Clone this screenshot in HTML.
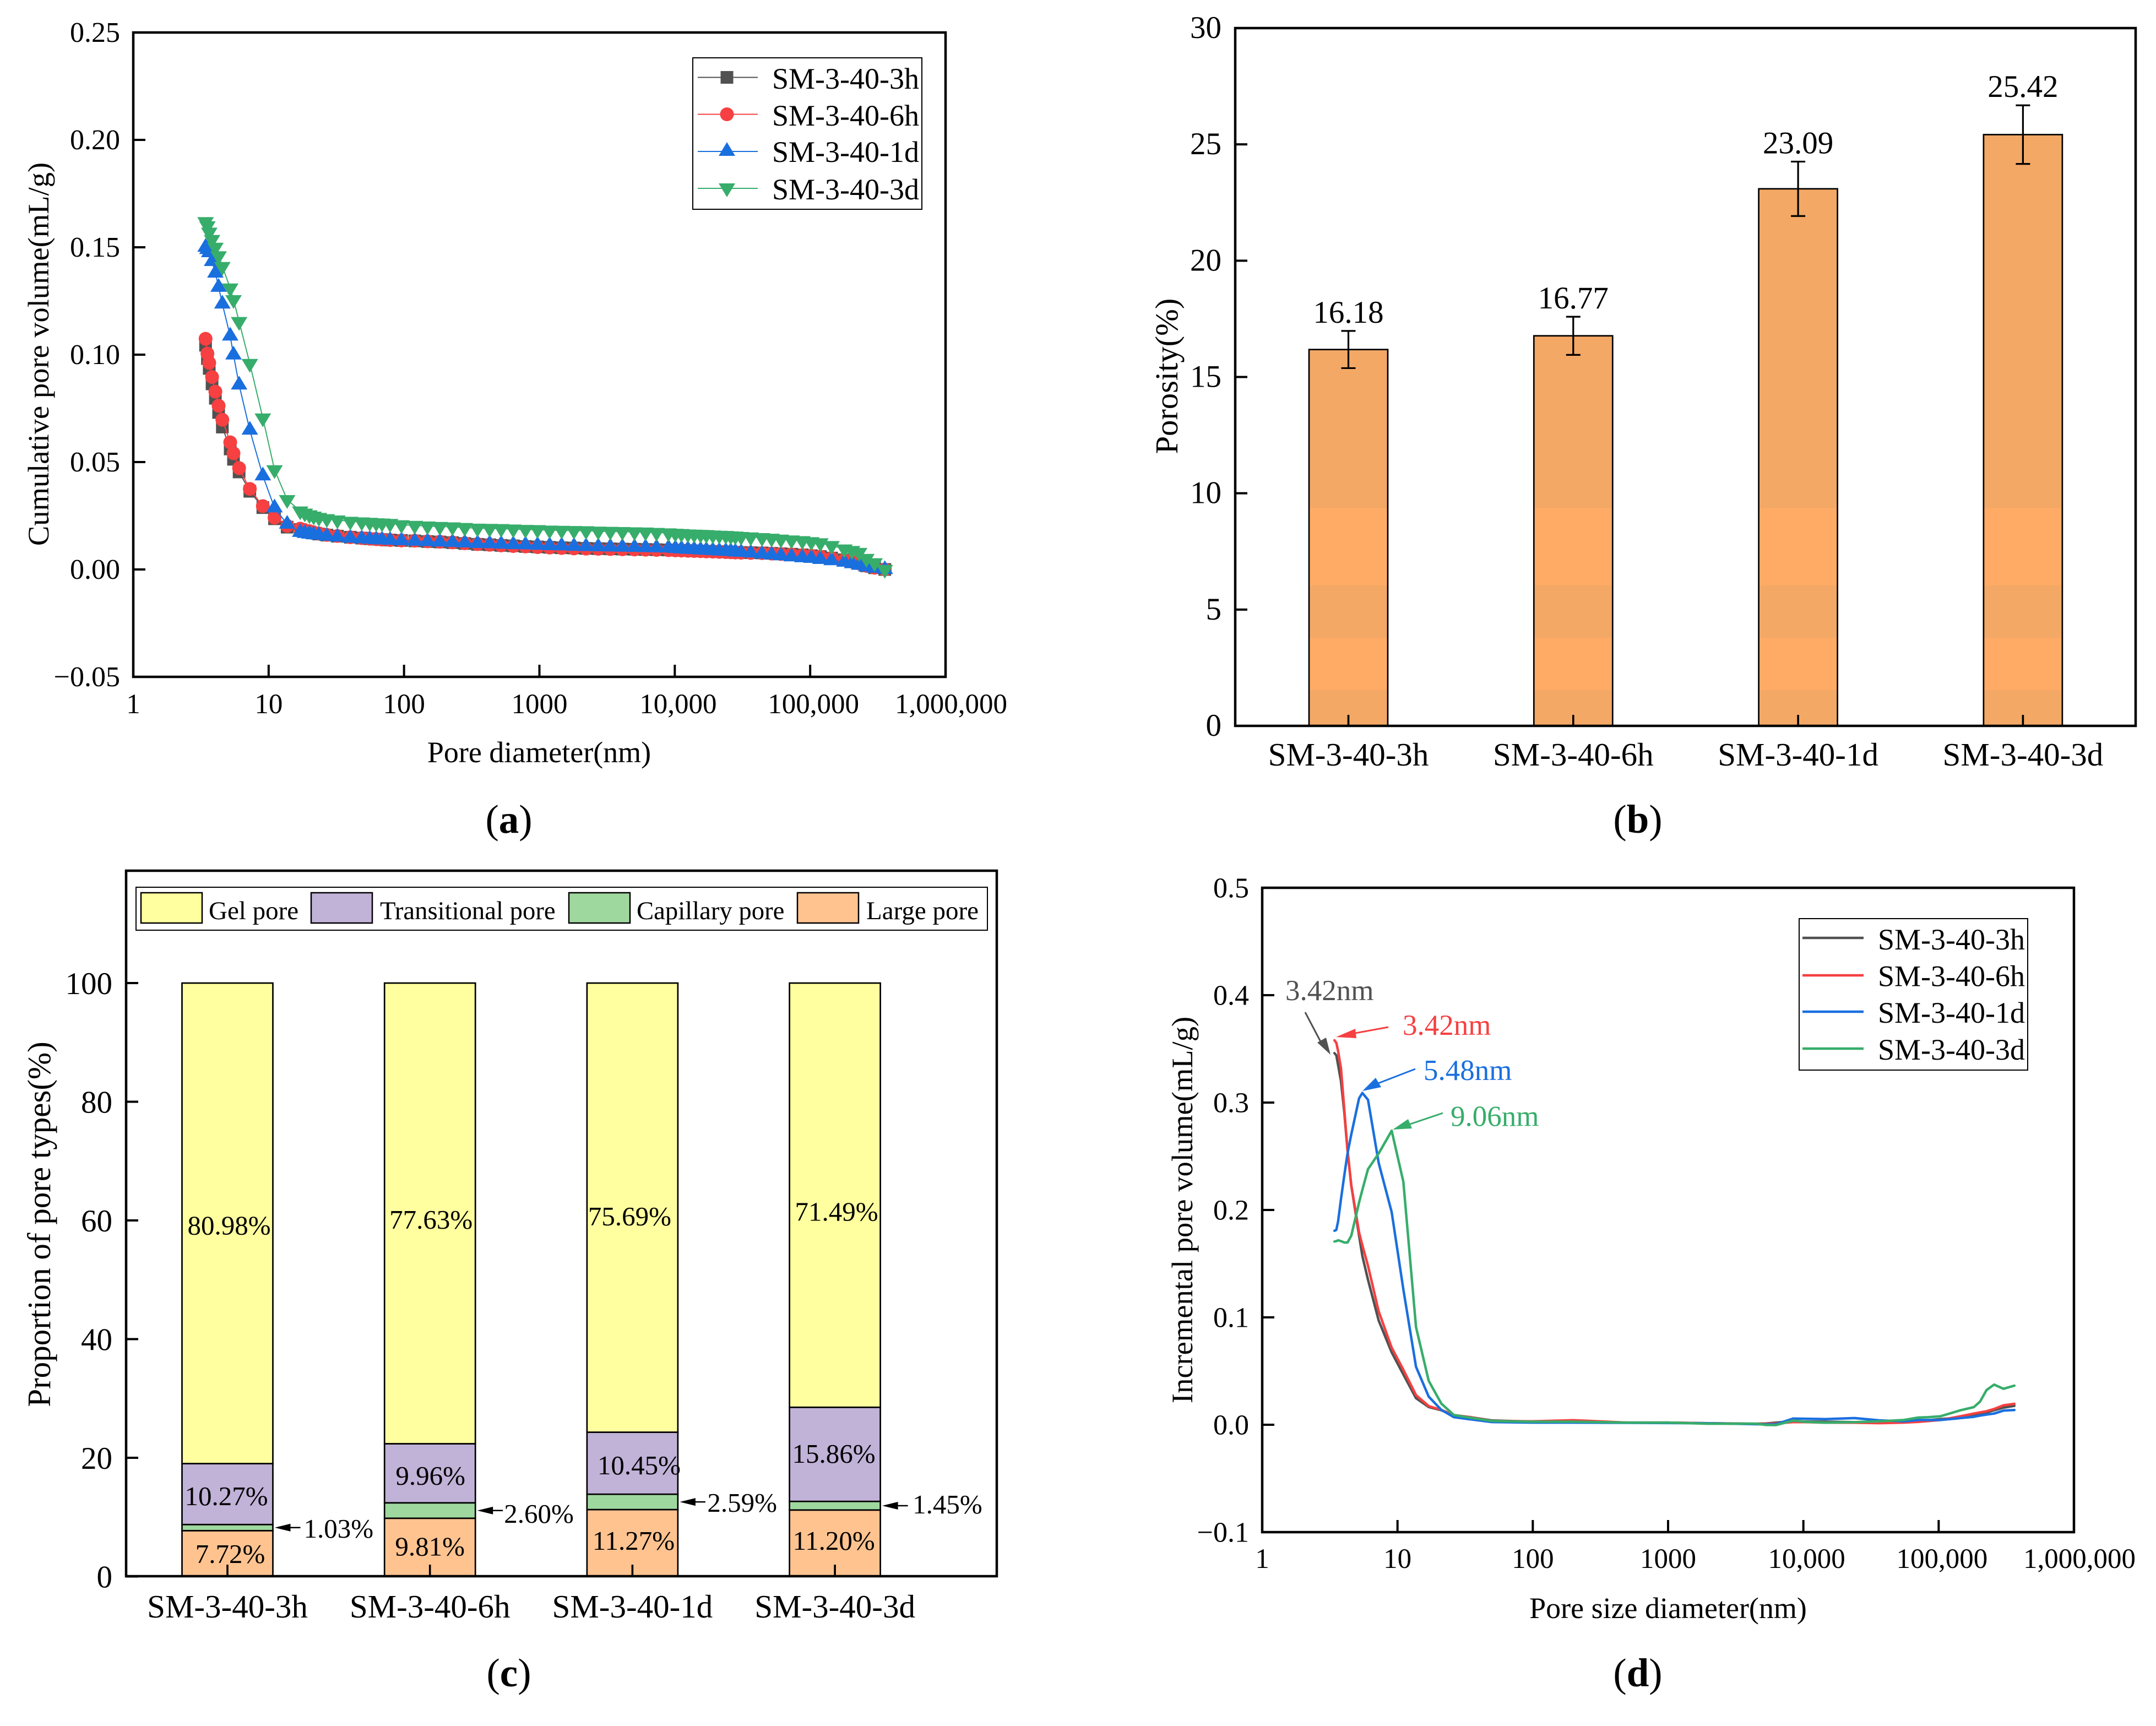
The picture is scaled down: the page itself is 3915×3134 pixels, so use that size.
<!DOCTYPE html>
<html lang="en">
<head>
<meta charset="utf-8">
<title>Pore structure charts</title>
<style>
html,body{margin:0;padding:0;background:#fff;}
svg{display:block;}
text{font-family:"Liberation Serif",serif;fill:#000;}
</style>
</head>
<body>
<svg id="fig" xmlns="http://www.w3.org/2000/svg" width="3915" height="3134" viewBox="0 0 3915 3134">
<defs>
<linearGradient id="barBands" gradientUnits="userSpaceOnUse" x1="0" y1="51" x2="0" y2="1318">
<stop offset="0" stop-color="#F3A866"/><stop offset="0.688" stop-color="#F3A866"/>
<stop offset="0.688" stop-color="#FFAB66"/><stop offset="0.7988" stop-color="#FFAB66"/>
<stop offset="0.7988" stop-color="#F3A866"/><stop offset="0.8737" stop-color="#F3A866"/>
<stop offset="0.8737" stop-color="#FFAB66"/><stop offset="0.9487" stop-color="#FFAB66"/>
<stop offset="0.9487" stop-color="#F3A866"/><stop offset="1" stop-color="#F3A866"/>
</linearGradient>
</defs>
<rect x="0" y="0" width="3915" height="3134" fill="#fff"/>

<!-- Panel a -->
<g id="panelA">
  <g id="a-marks"></g>
  <g id="a-ticks"></g>
  <rect x="242" y="59" width="1475" height="1170" fill="none" stroke="#000" stroke-width="4.5"/>
  <text x="979" y="1384" font-size="54" text-anchor="middle">Pore diameter(nm)</text>
  <text transform="translate(88,643) rotate(-90)" font-size="54.5" text-anchor="middle">Cumulative pore volume(mL/g)</text>
  <g>
    <rect x="1258" y="105" width="416" height="275" fill="#fff" stroke="#000" stroke-width="2"/>
    <g>
      <line x1="1267" x2="1376" y1="140.5" y2="140.5" stroke="#515151" stroke-width="2"/>
      <rect x="1308.5" y="129" width="23" height="23" fill="#515151"/>
      <text x="1402" y="161" font-size="54">SM-3-40-3h</text>
    </g>
    <g>
      <line x1="1267" x2="1376" y1="207.5" y2="207.5" stroke="#F64041" stroke-width="2"/>
      <circle cx="1320" cy="207.5" r="12.5" fill="#F64041"/>
      <text x="1402" y="228" font-size="54">SM-3-40-6h</text>
    </g>
    <g>
      <line x1="1267" x2="1376" y1="275" y2="275" stroke="#1A6FDF" stroke-width="2"/>
      <polygon points="1305,283 1335,283 1320,258" fill="#1A6FDF"/>
      <text x="1402" y="294" font-size="54">SM-3-40-1d</text>
    </g>
    <g>
      <line x1="1267" x2="1376" y1="342" y2="342" stroke="#37AD6B" stroke-width="2"/>
      <polygon points="1305,333 1335,333 1320,358" fill="#37AD6B"/>
      <text x="1402" y="362" font-size="54">SM-3-40-3d</text>
    </g>
  </g>
  <text x="924" y="1512" font-size="73" text-anchor="middle">(<tspan font-weight="bold">a</tspan>)</text>
</g>

<!-- Panel b -->
<g id="panelB">
  <g id="b-marks"></g>
  <g id="b-ticks"></g>
  <rect x="2243" y="51" width="1635" height="1267" fill="none" stroke="#000" stroke-width="4.5"/>
  <text transform="translate(2138,683) rotate(-90)" font-size="58.5" text-anchor="middle">Porosity(%)</text>
  <text x="2974" y="1512" font-size="73" text-anchor="middle">(<tspan font-weight="bold">b</tspan>)</text>
</g>

<!-- Panel c -->
<g id="panelC">
  <g id="c-marks"></g>
  <g id="c-ticks"></g>
  <rect x="229" y="1581" width="1581" height="1281" fill="none" stroke="#000" stroke-width="4.5"/>
  <text transform="translate(91,2223) rotate(-90)" font-size="59" text-anchor="middle">Proportion of pore types(%)</text>
  <g>
    <rect x="247" y="1611" width="1546" height="78" fill="#fff" stroke="#000" stroke-width="2"/>
    <g>
      <rect x="256" y="1621" width="111" height="55" fill="#FFFF9F" stroke="#000" stroke-width="2.5"/>
      <text x="379" y="1669" font-size="47">Gel pore</text>
    </g>
    <g>
      <rect x="565" y="1621" width="111" height="55" fill="#C1B2D8" stroke="#000" stroke-width="2.5"/>
      <text x="690" y="1669" font-size="46.7">Transitional pore</text>
    </g>
    <g>
      <rect x="1033" y="1621" width="111" height="55" fill="#9FD89F" stroke="#000" stroke-width="2.5"/>
      <text x="1156" y="1669" font-size="46.7">Capillary pore</text>
    </g>
    <g>
      <rect x="1448" y="1621" width="111" height="55" fill="#FFC390" stroke="#000" stroke-width="2.5"/>
      <text x="1573" y="1669" font-size="47">Large pore</text>
    </g>
  </g>
  <text x="924" y="3062" font-size="73" text-anchor="middle">(<tspan font-weight="bold">c</tspan>)</text>
</g>

<!-- Panel d -->
<g id="panelD">
  <g id="d-marks"></g>
  <g id="d-ticks"></g>
  <rect x="2292" y="1612" width="1474" height="1170" fill="none" stroke="#000" stroke-width="4.5"/>
  <text x="3029" y="2938" font-size="54" text-anchor="middle">Pore size diameter(nm)</text>
  <text transform="translate(2165,2197) rotate(-90)" font-size="54.5" text-anchor="middle">Incremental pore volume(mL/g)</text>
  <g>
    <rect x="3267" y="1668" width="415" height="275" fill="#fff" stroke="#000" stroke-width="2"/>
    <g>
      <line x1="3273" x2="3384" y1="1703" y2="1703" stroke="#515151" stroke-width="4.5"/>
      <text x="3410" y="1724" font-size="54">SM-3-40-3h</text>
    </g>
    <g>
      <line x1="3273" x2="3384" y1="1771" y2="1771" stroke="#F64041" stroke-width="4.5"/>
      <text x="3410" y="1790.5" font-size="54">SM-3-40-6h</text>
    </g>
    <g>
      <line x1="3273" x2="3384" y1="1837" y2="1837" stroke="#1A6FDF" stroke-width="4.5"/>
      <text x="3410" y="1857" font-size="54">SM-3-40-1d</text>
    </g>
    <g>
      <line x1="3273" x2="3384" y1="1904" y2="1904" stroke="#37AD6B" stroke-width="4.5"/>
      <text x="3410" y="1924" font-size="54">SM-3-40-3d</text>
    </g>
  </g>
  <g>
    <text x="2334" y="1816" font-size="53" style="fill:#515151">3.42nm</text>
    <line x1="2370" y1="1838" x2="2401" y2="1897" stroke="#515151" stroke-width="3"/>
    <polygon points="2416,1915 2392,1893 2408,1884" fill="#515151"/>
  </g>
  <g>
    <text x="2547" y="1879" font-size="53" style="fill:#F64041">3.42nm</text>
    <line x1="2521" y1="1865" x2="2455" y2="1877" stroke="#F64041" stroke-width="3"/>
    <polygon points="2426,1883 2461,1868 2463,1885" fill="#F64041"/>
  </g>
  <g>
    <text x="2585" y="1961" font-size="53" style="fill:#1A6FDF">5.48nm</text>
    <line x1="2570" y1="1941" x2="2500" y2="1968" stroke="#1A6FDF" stroke-width="3"/>
    <polygon points="2474,1981 2498,1957 2508,1974" fill="#1A6FDF"/>
  </g>
  <g>
    <text x="2634" y="2044.5" font-size="53" style="fill:#37AD6B">9.06nm</text>
    <line x1="2620" y1="2021" x2="2555" y2="2043" stroke="#37AD6B" stroke-width="3"/>
    <polygon points="2529,2051 2557,2032 2564,2049" fill="#37AD6B"/>
  </g>
  <text x="2974" y="3062" font-size="73" text-anchor="middle">(<tspan font-weight="bold">d</tspan>)</text>
</g>
</svg>

<script>
// ---------- Panel (a): cumulative pore volume ----------
const aDiameters = [3.42,3.53,3.64,3.82,4.04,4.27,4.55,5.2,5.5,6.05,
  7.26,9.06,11.05,13.7,17.1,18.5,20,21.5,23.5,26.9,
  32.2,40.1,48.7,55.8,62.3,68.8,78.9,95.8,120,149,
  184,228,281,349,429,522,641,789,968,1190,
  1460,1800,2210,2720,3340,4100,5040,6080,7330,8980,
  10100,11200,12500,13900,15500,17100,19100,21300,23800,25900,
  28000,30900,36400,44100,51900,60800,72800,87500,102000,119000,
  144000,179000,204000,230000,260000,299000,356000];
const a3h = [.1044,.0982,.0936,.0864,.0797,.0731,.0663,.0561,.0513,.0454,
  .0364,.0288,.0236,.0197,.0186,.018,.0175,.017,.0165,.016,
  .0155,.015,.0146,.0143,.0141,.0139,.0137,.0135,.0133,.013,
  .0128,.0125,.0121,.0117,.0115,.0112,.011,.0107,.0105,.0103,
  .0101,.01,.0098,.0097,.0096,.0095,.0094,.0093,.0092,.0091,
  .009,.0089,.0088,.0087,.0086,.0085,.0084,.0083,.0082,.0081,
  .008,.0079,.0078,.0077,.0075,.0073,.0071,.0068,.0064,.006,
  .0053,.0045,.0036,.0028,.0017,.0008,0];
const a6h = [.1074,.1005,.0962,.0896,.0828,.0762,.0697,.0592,.0541,.0472,
  .0375,.0295,.0241,.0203,.019,.0183,.0178,.0172,.0168,.0161,
  .0156,.015,.0146,.0143,.0141,.0139,.0137,.0135,.0134,.0131,
  .0129,.0126,.0122,.0118,.0115,.0112,.0109,.0107,.0104,.0102,
  .01,.0098,.0097,.0096,.0095,.0094,.0093,.0092,.0091,.009,
  .0089,.0088,.0087,.0086,.0085,.0084,.0083,.0082,.0081,.008,
  .0079,.0078,.0077,.0076,.0074,.0072,.007,.0067,.0064,.006,
  .0053,.0045,.0036,.0028,.0017,.0008,0];
const a1d = [.150,.149,.1475,.1434,.138,.1314,.1236,.1087,.0999,.0859,
  .0649,.0436,.0287,.0211,.0173,.0168,.0165,.0162,.016,.0155,
  .0151,.0146,.0143,.0141,.0139,.0138,.0136,.0134,.0132,.013,
  .0128,.0126,.0124,.0121,.012,.0118,.0116,.0115,.0113,.0111,
  .011,.0108,.0107,.0106,.0105,.0104,.0103,.0102,.0101,.01,
  .0098,.0096,.0094,.0093,.0091,.009,.0088,.0086,.0085,.0084,
  .0082,.008,.0077,.0072,.0068,.0064,.0059,.0055,.0052,.0047,
  .0041,.0034,.0027,.002,.0012,.0006,0];
const a3d = [.1619,.160,.157,.1536,.150,.146,.141,.131,.1256,.1154,
  .0959,.0705,.0464,.0325,.0272,.0262,.0254,.0248,.0242,.0236,
  .0230,.0224,.0221,.0219,.0217,.0216,.0214,.0208,.0205,.0202,
  .0200,.0198,.0195,.0192,.0191,.0190,.0188,.0186,.0185,.0183,
  .0182,.0181,.0180,.0178,.0177,.0176,.0175,.0174,.0172,.0170,
  .0168,.0167,.0165,.0164,.0163,.0162,.0160,.0159,.0158,.0156,
  .0155,.0153,.0151,.0148,.0145,.0141,.0137,.0134,.0129,.0124,
  .0111,.0095,.0088,.0079,.0051,.0031,0];
const aYTicks = [-0.05,0,0.05,0.10,0.15,0.20,0.25];
const aYLabels = ['\u22120.05','0.00','0.05','0.10','0.15','0.20','0.25'];

// ---------- shared log axis ----------
const logTicks = [1,10,100,1000,10000,100000,1000000];
const logLabels = ['1','10','100','1000','10,000','100,000','1,000,000'];

// ---------- Panel (b): porosity ----------
const bCategories = ['SM-3-40-3h','SM-3-40-6h','SM-3-40-1d','SM-3-40-3d'];
const bPorosity = [16.18,16.77,23.09,25.42];
const bError = [0.8,0.82,1.17,1.26];
const bYTicks = [0,5,10,15,20,25,30];

// ---------- Panel (c): pore type proportions ----------
const cCategories = ['SM-3-40-3h','SM-3-40-6h','SM-3-40-1d','SM-3-40-3d'];
const cLarge = [7.72,9.81,11.27,11.20];
const cCapillary = [1.03,2.60,2.59,1.45];
const cTransitional = [10.27,9.96,10.45,15.86];
const cGel = [80.98,77.63,75.69,71.49];
const cYTicks = [0,20,40,60,80,100];

// ---------- Panel (d): incremental pore volume ----------
const dDiameters = [3.42,3.53,3.64,3.82,4.04,4.27,4.55,5.2,5.5,6.05,7.26,9.06,11.05,13.7,17,21.1,26.1,
  34.8,49.9,100,200,500,1000,1945,4480,5300,6280,8400,10400,14500,23900,36400,55300,71000,84000,
  103000,145000,182000,202000,226000,257000,301000,363000];
const d3h = [.346,.344,.335,.320,.291,.2556,.223,.176,.157,.135,.097,.0674,.0468,.0247,.0165,.0135,.0085,
  .007,.004,.003,.0035,.002,.002,.0014,.001,.0012,.002,.0032,.003,.0028,.0024,.0025,.0028,.0035,.0042,
  .0053,.0067,.0087,.0098,.0116,.0135,.0159,.0176];
const d6h = [.358,.3556,.348,.332,.294,.2556,.2232,.179,.167,.148,.1056,.0718,.0512,.0276,.0174,.0138,.0091,
  .007,.0035,.0032,.0042,.002,.002,.0014,.0007,.0008,.0012,.0025,.0024,.002,.0019,.0015,.002,.0027,.0035,
  .0044,.0079,.0104,.0115,.0126,.0147,.0181,.0195];
const d1d = [.1806,.1815,.1894,.21,.232,.2526,.2703,.304,.309,.3026,.2438,.198,.126,.054,.0262,.0138,.0071,
  .005,.0025,.002,.002,.0018,.0016,.0014,.0005,.0003,.0005,.0058,.0056,.0053,.0062,.0041,.0032,.0044,.0044,
  .0044,.0062,.0074,.0085,.0095,.0104,.0132,.0137];
const d3d = [.1706,.171,.1718,.171,.1697,.1697,.176,.207,.2188,.238,.2526,.2738,.2262,.0909,.0409,.0197,.0091,
  .0065,.0035,.0028,.0028,.002,.002,.001,.001,-.0002,-.0003,.0039,.0027,.0019,.0024,.0032,.0044,.0067,.007,
  .0079,.0135,.0164,.0215,.0323,.0374,.0335,.0364];
const dYTicks = [-0.1,0,0.1,0.2,0.3,0.4,0.5];
const dYLabels = ['\u22120.1','0.0','0.1','0.2','0.3','0.4','0.5'];

// ---------- helpers ----------
const SVG_NS = document.getElementById('fig').namespaceURI;
function mk(parent, tag, attrs, txt) {
  const el = document.createElementNS(SVG_NS, tag);
  for (const k in attrs) el.setAttribute(k, attrs[k]);
  if (txt !== undefined) el.textContent = txt;
  parent.appendChild(el);
  return el;
}
const xA = d => 242 + Math.log10(d) * 245.83;
const yA = v => 1034 - v * 3900;
const xD = d => 2292 + Math.log10(d) * 245.67;
const yD = v => 2587 - v * 1950;
const yB = v => 1318 - v * 42.233;
const yC = v => 2862.5 - v * 10.775;
const xB = i => 2448.5 + i * 408.3;
const xC = i => 413 + i * 367.7;
const logLabelShift = t => (t >= 1000000 ? 10 : t >= 10000 ? 6 : 0);

function line(parent, x1, y1, x2, y2, w, color) {
  return mk(parent, 'line', {x1: x1, y1: y1, x2: x2, y2: y2, stroke: color || '#000', 'stroke-width': w});
}

// ---------- draw panel a ----------
const aGroup = document.getElementById('a-marks');
const aSeries = [
  {name: '3h', vals: a3h, color: '#515151', shape: 'square'},
  {name: '6h', vals: a6h, color: '#F64041', shape: 'circle'},
  {name: '1d', vals: a1d, color: '#1A6FDF', shape: 'up'},
  {name: '3d', vals: a3d, color: '#37AD6B', shape: 'down'}
];
aSeries.forEach(s => {
  const g = mk(aGroup, 'g', {});
  
  
  const pl = mk(g, 'polyline', {
    points: s.vals.map((v, i) => xA(aDiameters[i]).toFixed(1) + ',' + yA(v).toFixed(1)).join(' '),
    fill: 'none', stroke: s.color, 'stroke-width': 2
  });
  
  
  s.vals.forEach((v, i) => {
    const cx = xA(aDiameters[i]), cy = yA(v);
    let m;
    if (s.shape === 'square') {
      m = mk(g, 'rect', {x: cx - 11.5, y: cy - 11.5, width: 23, height: 23, fill: s.color});
    } else if (s.shape === 'circle') {
      m = mk(g, 'circle', {cx: cx, cy: cy, r: 12.5, fill: s.color});
    } else if (s.shape === 'up') {
      m = mk(g, 'polygon', {points: (cx - 15) + ',' + (cy + 8.3) + ' ' + (cx + 15) + ',' + (cy + 8.3) + ' ' + cx + ',' + (cy - 16.7), fill: s.color});
    } else {
      m = mk(g, 'polygon', {points: (cx - 15) + ',' + (cy - 8.3) + ' ' + (cx + 15) + ',' + (cy - 8.3) + ' ' + cx + ',' + (cy + 16.7), fill: s.color});
    }
    
    
  });
});
const aTicks = document.getElementById('a-ticks');
aYTicks.forEach((t, i) => {
  const tk = line(aTicks, 242, yA(t), 264, yA(t), 4);
  
  
  const lb = mk(aTicks, 'text', {x: 218, y: yA(t) + 17, 'font-size': 52, 'text-anchor': 'end'}, aYLabels[i]);
  
  
});
logTicks.forEach((t, i) => {
  const tk = line(aTicks, xA(t), 1229, xA(t), 1207, 4);
  
  
  const lb = mk(aTicks, 'text', {x: xA(t) + logLabelShift(t), y: 1295, 'font-size': 51, 'text-anchor': 'middle'}, logLabels[i]);
  
  
});

// ---------- draw panel b ----------
const bGroup = document.getElementById('b-marks');
const bTicks = document.getElementById('b-ticks');
bPorosity.forEach((v, i) => {
  const cx = xB(i);
  const bar = mk(bGroup, 'rect', {x: cx - 71.5, y: yB(v), width: 143, height: 1318 - yB(v), fill: 'url(#barBands)', stroke: '#000', 'stroke-width': 2.7});
  
  
  const top = yB(v + bError[i]), bot = yB(v - bError[i]);
  const stem = line(bGroup, cx, top, cx, bot, 3.2);
  
  
  const capT = line(bGroup, cx - 13, top, cx + 13, top, 3.2);
  
  
  const capB = line(bGroup, cx - 13, bot, cx + 13, bot, 3.2);
  
  
  const val = mk(bGroup, 'text', {x: cx, y: top - 15, 'font-size': 57, 'text-anchor': 'middle'}, v.toFixed(2));
  
  
  const tk = line(bTicks, cx, 1318, cx, 1298, 3.6);
  
  
  const lb = mk(bTicks, 'text', {x: cx, y: 1390, 'font-size': 59, 'text-anchor': 'middle'}, bCategories[i]);
  
  
});
bYTicks.forEach(t => {
  const tk = line(bTicks, 2243, yB(t), 2265, yB(t), 4);
  
  
  const lb = mk(bTicks, 'text', {x: 2218, y: yB(t) + 18, 'font-size': 57, 'text-anchor': 'end'}, String(t));
  
  
});

// ---------- draw panel c ----------
const cGroup = document.getElementById('c-marks');
const cTicks = document.getElementById('c-ticks');
const gelNudgeX = [3,2,-5,3], gelNudgeY = [20,28,32,46.5];
const transNudgeX = [-2,1,12,-2], transNudgeY = [20,21,20,15];
const largeNudgeX = [5,0,2,-2], largeNudgeY = [17,15,12,12];
const capNudgeX = [56,52,53.5,58.5], capNudgeY = [18,22,18,14];
const PCT = v => v.toFixed(2) + '%';
cLarge.forEach((L, i) => {
  const cx = xC(i), C = cCapillary[i], T = cTransitional[i], G = cGel[i];
  const left = cx - 82.5;
  const parts = [
    {nm: 'large', from: 0, to: L, fill: '#FFC390'},
    {nm: 'capillary', from: L, to: L + C, fill: '#9FD89F'},
    {nm: 'transitional', from: L + C, to: L + C + T, fill: '#C1B2D8'},
    {nm: 'gel', from: L + C + T, to: L + C + T + G, fill: '#FFFF9F'}
  ];
  parts.forEach(p => {
    const r = mk(cGroup, 'rect', {x: left, y: yC(p.to), width: 165, height: yC(p.from) - yC(p.to), fill: p.fill, stroke: '#000', 'stroke-width': 2.7});
    
    
  });
  const gelLb = mk(cGroup, 'text', {x: cx + gelNudgeX[i], y: yC(L + C + T + G / 2) + gelNudgeY[i], 'font-size': 49, 'text-anchor': 'middle'}, PCT(G));
  
  
  const trLb = mk(cGroup, 'text', {x: cx + transNudgeX[i], y: yC(L + C + T / 2) + transNudgeY[i], 'font-size': 49, 'text-anchor': 'middle'}, PCT(T));
  
  
  const lgLb = mk(cGroup, 'text', {x: cx + largeNudgeX[i], y: yC(L / 2) + largeNudgeY[i], 'font-size': 49, 'text-anchor': 'middle'}, PCT(L));
  
  
  const right = cx + 82.5, ay = yC(L + C / 2);
  const shaft = line(cGroup, right + 20, ay, right + 50, ay, 2.5);
  
  
  const head = mk(cGroup, 'polygon', {points: (right + 3.5) + ',' + ay + ' ' + (right + 32) + ',' + (ay - 7) + ' ' + (right + 32) + ',' + (ay + 7), fill: '#000'});
  
  
  const capLb = mk(cGroup, 'text', {x: right + capNudgeX[i], y: ay + capNudgeY[i], 'font-size': 49}, PCT(C));
  
  
  const tk = line(cTicks, cx, 2862, cx, 2841, 3.6);
  
  
  const lb = mk(cTicks, 'text', {x: cx, y: 2937, 'font-size': 59, 'text-anchor': 'middle'}, cCategories[i]);
  
  
});
cYTicks.forEach(t => {
  const tk = line(cTicks, 229, yC(t), 251, yC(t), 4);
  
  
  const lb = mk(cTicks, 'text', {x: 204, y: yC(t) + 20, 'font-size': 57, 'text-anchor': 'end'}, String(t));
  
  
});

// ---------- draw panel d ----------
const dGroup = document.getElementById('d-marks');
const dSeries = [
  {name: '3h', vals: d3h, color: '#515151'},
  {name: '6h', vals: d6h, color: '#F64041'},
  {name: '1d', vals: d1d, color: '#1A6FDF'},
  {name: '3d', vals: d3d, color: '#37AD6B'}
];
dSeries.forEach(s => {
  const pl = mk(dGroup, 'polyline', {
    points: s.vals.map((v, i) => xD(dDiameters[i]).toFixed(1) + ',' + yD(v).toFixed(1)).join(' '),
    fill: 'none', stroke: s.color, 'stroke-width': 4.5, 'stroke-linejoin': 'round', 'stroke-linecap': 'round'
  });
  
  
});
const dTicks = document.getElementById('d-ticks');
dYTicks.forEach((t, i) => {
  const tk = line(dTicks, 2292, yD(t), 2314, yD(t), 4);
  
  
  const lb = mk(dTicks, 'text', {x: 2268, y: yD(t) + 17.5, 'font-size': 52, 'text-anchor': 'end'}, dYLabels[i]);
  
  
});
logTicks.forEach((t, i) => {
  const tk = line(dTicks, xD(t), 2782, xD(t), 2760, 4);
  
  
  const lb = mk(dTicks, 'text', {x: xD(t) + logLabelShift(t), y: 2847, 'font-size': 51, 'text-anchor': 'middle'}, logLabels[i]);
  
  
});
</script>
</body>
</html>
